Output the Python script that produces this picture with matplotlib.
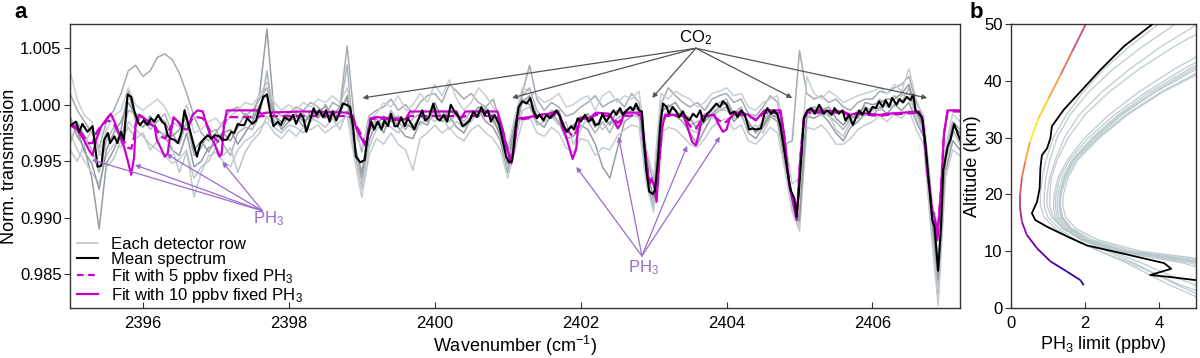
import numpy as np
import matplotlib
matplotlib.use("Agg")
import matplotlib.pyplot as plt
from matplotlib.collections import LineCollection

plt.rcParams['font.family'] = ['Liberation Sans', 'DejaVu Sans']
plt.rcParams['mathtext.fontset'] = 'custom'
plt.rcParams['mathtext.rm'] = 'Liberation Sans'
plt.rcParams['mathtext.it'] = 'Liberation Sans:italic'

# ---------------- panel a: spectra ----------------
# mean spectrum (black)
x_mean = [2395.00, 2395.08, 2395.13, 2395.17, 2395.24, 2395.31, 2395.38, 2395.43, 2395.47, 2395.52,
          2395.55, 2395.61, 2395.65, 2395.70, 2395.74, 2395.79, 2395.84, 2395.88, 2395.93, 2395.96,
          2396.01, 2396.06, 2396.11, 2396.16, 2396.21, 2396.26, 2396.30, 2396.34, 2396.38, 2396.43,
          2396.48, 2396.53, 2396.57, 2396.60, 2396.65, 2396.69, 2396.74, 2396.79, 2396.84, 2396.89,
          2396.94, 2396.99, 2397.05, 2397.09, 2397.15, 2397.21, 2397.25, 2397.30, 2397.34, 2397.39,
          2397.43, 2397.50, 2397.55, 2397.59, 2397.65, 2397.70, 2397.74, 2397.79, 2397.85, 2397.89,
          2397.94,
          2398.01, 2398.06, 2398.10, 2398.16, 2398.20, 2398.24, 2398.29, 2398.34, 2398.38, 2398.42,
          2398.47, 2398.51, 2398.56, 2398.60, 2398.65, 2398.69, 2398.74, 2398.79, 2398.84, 2398.88,
          2398.92, 2398.98, 2399.04, 2399.08, 2399.13, 2399.17, 2399.22, 2399.27, 2399.31, 2399.36,
          2399.40, 2399.45, 2399.49, 2399.54, 2399.59, 2399.63, 2399.68, 2399.72, 2399.77, 2399.83,
          2399.87, 2399.92, 2399.98, 2400.03, 2400.07, 2400.12, 2400.17, 2400.22, 2400.27, 2400.33,
          2400.38, 2400.43, 2400.48, 2400.53, 2400.58, 2400.64, 2400.68, 2400.73, 2400.77, 2400.82,
          2400.88, 2400.93, 2400.98, 2401.02,
          2401.06, 2401.08, 2401.11, 2401.15, 2401.20, 2401.26, 2401.31, 2401.35, 2401.40, 2401.44,
          2401.49, 2401.53, 2401.58, 2401.63, 2401.67, 2401.72, 2401.76, 2401.81, 2401.87, 2401.91,
          2401.96, 2402.00, 2402.06, 2402.11, 2402.16, 2402.20, 2402.25, 2402.30, 2402.35, 2402.39,
          2402.45, 2402.49, 2402.54, 2402.58, 2402.63, 2402.68, 2402.72, 2402.76, 2402.80, 2402.84,
          2402.87, 2402.90, 2402.94, 2402.99, 2403.02, 2403.06, 2403.09, 2403.13, 2403.18, 2403.21,
          2403.26, 2403.31, 2403.35, 2403.40, 2403.44, 2403.49, 2403.54, 2403.59, 2403.64, 2403.68,
          2403.73, 2403.77, 2403.82, 2403.86, 2403.91, 2403.95, 2404.00, 2404.05,
          2404.11, 2404.15, 2404.20, 2404.25, 2404.31, 2404.36, 2404.40, 2404.47, 2404.52, 2404.56,
          2404.61, 2404.65, 2404.70, 2404.74, 2404.79, 2404.84, 2404.88, 2404.93, 2404.96, 2404.99,
          2405.03, 2405.06, 2405.11, 2405.16, 2405.21, 2405.27, 2405.33, 2405.38, 2405.44, 2405.48,
          2405.54, 2405.59, 2405.63, 2405.68, 2405.73, 2405.77, 2405.82, 2405.86, 2405.91, 2405.95,
          2406.00, 2406.05, 2406.09, 2406.14, 2406.18, 2406.23, 2406.27, 2406.33, 2406.37, 2406.42,
          2406.47, 2406.52, 2406.56, 2406.59, 2406.64, 2406.68, 2406.73, 2406.78, 2406.82, 2406.85,
          2406.90, 2406.94, 2406.97, 2407.03, 2407.07, 2407.12, 2407.16, 2407.20]
y_mean = [0.9981, 0.9985, 0.9976, 0.9983, 0.9976, 0.9981, 0.9945, 0.9946, 0.9969, 0.9975,
          0.9966, 0.9972, 0.9966, 0.9976, 0.9969, 1.0009, 1.0007, 0.9995, 0.9985, 0.9982,
          0.9986, 0.9982, 0.9988, 0.9985, 0.9991, 0.9985, 0.9983, 0.9973, 0.9970, 0.9969,
          0.9966, 0.9976, 0.9995, 0.9988, 0.9976, 0.9966, 0.9954, 0.9966, 0.9970, 0.9973,
          0.9970, 0.9973, 0.9972, 0.9969, 0.9969, 0.9976, 0.9975, 0.9983, 0.9982, 0.9982,
          0.9988, 0.9983, 0.9986, 0.9995, 1.0007, 1.0009, 0.9995, 0.9981, 0.9985, 0.9982,
          0.9989,
          0.9986, 0.9991, 0.9983, 0.9992, 0.9988, 0.9976, 0.9986, 0.9997, 0.9991, 0.9995,
          0.9989, 0.9995, 0.9985, 0.9994, 0.9986, 0.9992, 1.0001, 1.0000, 0.9998, 0.9981,
          0.9954, 0.9949, 0.9951, 0.9972, 0.9985, 0.9978, 0.9985, 0.9978, 0.9986, 0.9981,
          0.9992, 0.9981, 0.9981, 0.9989, 0.9981, 0.9988, 0.9983, 0.9978, 0.9986, 0.9995,
          0.9986, 0.9989, 1.0001, 0.9988, 0.9986, 0.9991, 0.9985, 1.0000, 0.9994, 0.9989,
          0.9981, 0.9983, 0.9986, 0.9994, 0.9989, 0.9998, 0.9991, 0.9995, 0.9985, 0.9991,
          0.9983, 0.9969, 0.9954, 0.9949,
          0.9950, 0.9962, 0.9981, 0.9998, 1.0003, 1.0001, 1.0006, 0.9995, 0.9988, 0.9991,
          0.9986, 0.9991, 0.9988, 0.9992, 0.9995, 0.9989, 0.9982, 0.9976, 0.9981, 0.9978,
          0.9988, 0.9985, 0.9991, 0.9985, 0.9988, 0.9982, 0.9983, 0.9992, 0.9985, 0.9989,
          0.9995, 0.9991, 0.9997, 0.9991, 0.9995, 0.9998, 0.9995, 1.0001, 0.9995, 0.9994,
          0.9966, 0.9942, 0.9923, 0.9921, 0.9924, 0.9951, 0.9981, 1.0001, 0.9998, 0.9992,
          0.9998, 0.9994, 0.9989, 0.9994, 0.9989, 0.9986, 0.9992, 0.9989, 0.9995, 0.9985,
          0.9992, 0.9994, 0.9998, 1.0001, 0.9998, 1.0003, 1.0000, 0.9992,
          0.9994, 0.9989, 0.9995, 0.9991, 0.9978, 0.9979, 0.9978, 0.9979, 0.9992, 0.9997,
          0.9992, 0.9995, 0.9991, 0.9981, 0.9960, 0.9939, 0.9924, 0.9917, 0.9901, 0.9921,
          0.9957, 0.9988, 0.9995, 0.9997, 0.9992, 1.0000, 0.9992, 0.9995, 0.9991, 0.9997,
          0.9992, 0.9995, 0.9986, 0.9991, 0.9982, 0.9988, 0.9995, 0.9991, 0.9997, 0.9992,
          0.9998, 0.9997, 1.0003, 0.9998, 1.0004, 0.9998, 1.0006, 1.0000, 1.0005, 1.0002,
          1.0007, 1.0004, 1.0009, 0.9995, 0.9992, 0.9989, 0.9963, 0.9927, 0.9898, 0.9892,
          0.9853, 0.9892, 0.9942, 0.9963, 0.9969, 0.9983, 0.9976, 0.9969]

# fits: 10 ppbv (solid) and 5 ppbv (dashed)
x_fit = [2395.00, 2395.10, 2395.19, 2395.26, 2395.31, 2395.36, 2395.43, 2395.52, 2395.56, 2395.61,
         2395.68, 2395.74, 2395.79, 2395.84, 2395.88, 2395.90, 2395.95, 2396.02, 2396.09, 2396.16,
         2396.19, 2396.25, 2396.30, 2396.34, 2396.38, 2396.42, 2396.48, 2396.54, 2396.61, 2396.68,
         2396.75, 2396.82, 2396.88, 2396.93, 2396.99, 2397.05, 2397.08, 2397.11, 2397.15, 2397.57,
         2397.62, 2397.70, 2398.20, 2398.80, 2398.88, 2398.92, 2398.98, 2399.03, 2399.06, 2399.09,
         2399.12, 2399.20, 2399.60, 2399.66, 2400.30, 2400.34, 2400.38, 2400.42, 2400.86, 2400.92,
         2400.98, 2401.05, 2401.09, 2401.13, 2401.16, 2401.30, 2401.43, 2401.57, 2401.66, 2401.71,
         2401.75, 2401.80, 2401.85, 2401.89, 2401.94, 2401.96, 2401.99, 2402.12, 2402.21, 2402.39,
         2402.46, 2402.51, 2402.55, 2402.60, 2402.83, 2402.87, 2402.94, 2402.98, 2403.01, 2403.04,
         2403.08, 2403.12, 2403.16, 2403.40, 2403.44, 2403.49, 2403.53, 2403.58, 2403.63, 2403.66,
         2403.83, 2403.88, 2403.95, 2404.00, 2404.04, 2404.11, 2404.20, 2404.30, 2404.40, 2404.45,
         2404.52, 2404.74, 2404.79, 2404.86, 2404.92, 2404.96, 2405.01, 2405.06, 2405.11, 2405.60,
         2405.70, 2405.80, 2406.10, 2406.20, 2406.64, 2406.69, 2406.75, 2406.82, 2406.85, 2406.89,
         2406.94, 2406.98, 2407.03, 2407.20]
y_fit10 = [0.9982, 0.9978, 0.9969, 0.9960, 0.9955, 0.9969, 0.9981, 0.9989, 0.9992, 0.9985,
           0.9973, 0.9963, 0.9951, 0.9938, 0.9954, 0.9983, 0.9991, 0.9988, 0.9983, 0.9981,
           0.9969, 0.9961, 0.9954, 0.9957, 0.9975, 0.9989, 0.9985, 0.9979, 0.9978, 0.9991,
           0.9995, 0.9994, 0.9981, 0.9972, 0.9964, 0.9954, 0.9957, 0.9981, 0.9995, 0.9995,
           0.9992, 0.9993, 0.9994, 0.9993, 0.9990, 0.9980, 0.9972, 0.9966, 0.9963, 0.9975,
           0.9988, 0.9989, 0.9987, 0.9994, 0.9994, 0.9988, 0.9990, 0.9994, 0.9994, 0.9980,
           0.9963, 0.9948, 0.9962, 0.9987, 0.9988, 0.9989, 0.9991, 0.9992, 0.9994, 0.9991,
           0.9980, 0.9972, 0.9961, 0.9952, 0.9961, 0.9977, 0.9988, 0.9988, 0.9993, 0.9992,
           0.9985, 0.9979, 0.9983, 0.9993, 0.9993, 0.9966, 0.9930, 0.9933, 0.9927, 0.9914,
           0.9951, 0.9981, 0.9991, 0.9991, 0.9985, 0.9975, 0.9967, 0.9964, 0.9977, 0.9990,
           0.9991, 0.9984, 0.9976, 0.9978, 0.9987, 0.9993, 0.9993, 0.9991, 0.9986, 0.9990,
           0.9995, 0.9995, 0.9973, 0.9929, 0.9911, 0.9898, 0.9951, 0.9989, 0.9995, 0.9994,
           0.9991, 0.9993, 0.9991, 0.9992, 0.9994, 0.9986, 0.9942, 0.9904, 0.9901, 0.9880,
           0.9924, 0.9974, 0.9995, 0.9995]
y_fit5 = [0.9983, 0.9980, 0.9972, 0.9966, 0.9966, 0.9975, 0.9982, 0.9986, 0.9985, 0.9982,
          0.9974, 0.9968, 0.9962, 0.9961, 0.9972, 0.9982, 0.9988, 0.9987, 0.9985, 0.9982,
          0.9977, 0.9972, 0.9970, 0.9974, 0.9980, 0.9985, 0.9985, 0.9981, 0.9980, 0.9988,
          0.9989, 0.9988, 0.9982, 0.9975, 0.9970, 0.9966, 0.9968, 0.9982, 0.9989, 0.9989,
          0.9990, 0.9990, 0.9990, 0.9990, 0.9988, 0.9982, 0.9975, 0.9968, 0.9966, 0.9978,
          0.9987, 0.9988, 0.9986, 0.9990, 0.9990, 0.9988, 0.9989, 0.9990, 0.9990, 0.9981,
          0.9965, 0.9950, 0.9963, 0.9987, 0.9987, 0.9988, 0.9990, 0.9990, 0.9991, 0.9989,
          0.9984, 0.9979, 0.9975, 0.9972, 0.9976, 0.9983, 0.9988, 0.9988, 0.9991, 0.9990,
          0.9987, 0.9984, 0.9986, 0.9990, 0.9991, 0.9966, 0.9932, 0.9935, 0.9930, 0.9918,
          0.9952, 0.9981, 0.9990, 0.9990, 0.9987, 0.9982, 0.9979, 0.9979, 0.9984, 0.9990,
          0.9990, 0.9987, 0.9984, 0.9985, 0.9988, 0.9991, 0.9991, 0.9990, 0.9987, 0.9989,
          0.9993, 0.9993, 0.9972, 0.9930, 0.9913, 0.9901, 0.9952, 0.9988, 0.9993, 0.9993,
          0.9990, 0.9992, 0.9990, 0.9991, 0.9993, 0.9985, 0.9943, 0.9906, 0.9903, 0.9884,
          0.9926, 0.9974, 0.9994, 0.9994]

# individual detector rows, sampled every 0.1 cm-1 from 2395.0 to 2407.2
x_rows = np.linspace(2395.0, 2407.2, 123)
row_a = [0.9990, 0.9972, 0.9962, 0.9935, 0.9890, 0.9948, 0.9960, 0.9978, 1.0012, 0.9985,
         0.9980, 0.9990, 0.9978, 0.9972, 0.9960, 0.9955, 0.9975, 0.9945, 0.9950, 0.9962,
         0.9965, 0.9975, 0.9968, 0.9980, 0.9992, 0.9988, 1.0010, 1.0067, 0.9992, 0.9978,
         0.9985, 0.9990, 0.9980, 0.9995, 0.9988, 1.0000, 0.9990, 0.9998, 1.0005, 0.9960,
         0.9935, 0.9968, 0.9985, 0.9975, 0.9992, 0.9980, 0.9972, 0.9970, 0.9985, 0.9982,
         0.9998, 0.9985, 0.9990, 0.9980, 0.9975, 0.9988, 0.9995, 0.9985, 0.9980, 0.9968,
         0.9940, 0.9972, 1.0005, 1.0000, 0.9985, 0.9980, 0.9992, 0.9985, 0.9970, 0.9972,
         0.9982, 0.9978, 0.9965, 0.9945, 0.9935, 0.9960, 0.9985, 0.9990, 0.9992, 0.9938,
         0.9908, 0.9985, 0.9992, 0.9990, 0.9985, 0.9975, 0.9965, 0.9978, 0.9990, 0.9995,
         0.9998, 0.9985, 0.9992, 0.9975, 0.9970, 0.9980, 0.9990, 0.9985, 0.9948, 0.9912,
         0.9895, 0.9990, 0.9988, 0.9992, 0.9985, 0.9975, 0.9968, 0.9980, 0.9985, 0.9992,
         0.9990, 0.9998, 0.9992, 1.0000, 0.9995, 1.0002, 0.9985, 0.9972, 0.9900, 0.9830,
         0.9940, 0.9968, 0.9960]
row_b = [1.0010, 0.9995, 0.9985, 0.9975, 0.9962, 0.9985, 0.9995, 1.0010, 1.0030, 1.0035,
         1.0025, 1.0030, 1.0042, 1.0045, 1.0040, 1.0028, 1.0010, 0.9990, 0.9975, 0.9968,
         0.9975, 0.9985, 0.9995, 0.9998, 0.9990, 0.9995, 1.0005, 1.0015, 0.9995, 0.9990,
         0.9992, 0.9998, 0.9995, 1.0002, 0.9998, 0.9990, 1.0002, 0.9998, 1.0052, 0.9985,
         0.9958, 0.9990, 0.9995, 0.9998, 1.0005, 0.9995, 1.0000, 0.9992, 1.0002, 1.0008,
         1.0010, 1.0002, 1.0018, 1.0012, 1.0005, 1.0010, 1.0002, 0.9998, 1.0005, 0.9985,
         0.9958, 0.9985, 1.0010, 1.0035, 1.0005, 0.9995, 1.0002, 0.9998, 0.9990, 0.9992,
         0.9998, 1.0002, 1.0008, 0.9998, 1.0002, 1.0005, 0.9998, 1.0010, 1.0002, 0.9958,
         0.9930, 1.0000, 1.0015, 1.0008, 1.0002, 0.9998, 1.0002, 0.9995, 1.0005, 1.0008,
         1.0010, 1.0002, 1.0005, 0.9992, 0.9990, 0.9998, 1.0008, 1.0002, 0.9965, 0.9968,
         1.0048, 1.0010, 1.0005, 1.0008, 1.0002, 1.0005, 0.9998, 0.9995, 1.0002, 1.0005,
         1.0005, 1.0012, 1.0010, 1.0015, 1.0018, 1.0025, 1.0002, 0.9990, 0.9925, 0.9860,
         0.9955, 0.9985, 0.9978]
row_c = [0.9975, 0.9960, 0.9950, 0.9940, 0.9930, 0.9955, 0.9965, 0.9962, 0.9985, 0.9978,
         0.9972, 0.9965, 0.9960, 0.9955, 0.9948, 0.9952, 0.9960, 0.9918, 0.9940, 0.9955,
         0.9958, 0.9950, 0.9945, 0.9960, 0.9968, 0.9972, 0.9980, 0.9985, 0.9975, 0.9970,
         0.9978, 0.9972, 0.9980, 0.9978, 0.9982, 0.9975, 0.9980, 0.9985, 0.9990, 0.9952,
         0.9918, 0.9955, 0.9970, 0.9965, 0.9975, 0.9965, 0.9960, 0.9942, 0.9970, 0.9975,
         0.9982, 0.9975, 0.9980, 0.9972, 0.9968, 0.9978, 0.9982, 0.9975, 0.9970, 0.9960,
         0.9935, 0.9960, 0.9985, 0.9990, 0.9975, 0.9972, 0.9980, 0.9975, 0.9962, 0.9958,
         0.9970, 0.9968, 0.9955, 0.9962, 0.9960, 0.9972, 0.9978, 0.9982, 0.9980, 0.9930,
         0.9905, 0.9975, 0.9980, 0.9978, 0.9972, 0.9965, 0.9962, 0.9970, 0.9980, 0.9985,
         0.9988, 0.9978, 0.9982, 0.9968, 0.9965, 0.9972, 0.9980, 0.9975, 0.9942, 0.9905,
         0.9888, 0.9980, 0.9978, 0.9982, 0.9975, 0.9965, 0.9965, 0.9970, 0.9978, 0.9982,
         0.9985, 0.9990, 0.9985, 0.9992, 0.9988, 0.9995, 0.9978, 0.9965, 0.9892, 0.9822,
         0.9935, 0.9960, 0.9955]
row_d = [1.0030, 1.0005, 0.9990, 0.9985, 0.9955, 0.9978, 0.9990, 0.9995, 1.0015, 1.0000,
         0.9995, 1.0000, 1.0005, 0.9998, 0.9985, 0.9980, 1.0000, 0.9975, 0.9978, 0.9985,
         0.9988, 0.9980, 0.9990, 0.9995, 1.0002, 1.0000, 1.0008, 1.0020, 1.0002, 0.9995,
         1.0000, 0.9995, 1.0002, 0.9998, 1.0005, 1.0002, 1.0008, 1.0002, 1.0015, 0.9975,
         0.9962, 0.9985, 0.9992, 1.0002, 0.9998, 1.0008, 0.9995, 1.0000, 1.0010, 1.0002,
         1.0018, 1.0008, 1.0022, 1.0005, 0.9995, 1.0002, 1.0015, 1.0008, 0.9998, 0.9988,
         0.9962, 0.9990, 1.0015, 1.0012, 1.0008, 1.0002, 1.0005, 1.0010, 0.9998, 1.0000,
         1.0005, 1.0008, 0.9995, 1.0008, 1.0012, 1.0002, 1.0008, 1.0005, 1.0012, 0.9962,
         0.9935, 1.0010, 1.0005, 1.0012, 1.0008, 1.0005, 0.9998, 1.0002, 1.0010, 1.0012,
         1.0015, 1.0008, 1.0010, 0.9998, 0.9995, 1.0002, 1.0005, 1.0008, 0.9970, 0.9930,
         0.9935, 1.0025, 1.0010, 1.0005, 1.0012, 1.0008, 1.0002, 1.0005, 1.0008, 1.0010,
         1.0012, 1.0015, 1.0010, 1.0018, 1.0012, 1.0032, 1.0005, 0.9988, 0.9918, 0.9850,
         0.9962, 0.9992, 0.9985]
row_e = [0.9965, 0.9985, 0.9972, 0.9960, 0.9940, 0.9968, 0.9980, 0.9970, 0.9995, 0.9992,
         0.9990, 0.9978, 0.9985, 0.9992, 0.9975, 0.9965, 0.9985, 0.9955, 0.9962, 0.9975,
         0.9978, 0.9965, 0.9955, 0.9975, 0.9980, 0.9978, 0.9990, 1.0030, 0.9985, 0.9980,
         0.9990, 0.9985, 0.9992, 0.9985, 0.9995, 0.9998, 0.9990, 0.9995, 1.0035, 0.9958,
         0.9928, 0.9975, 0.9988, 0.9980, 0.9995, 0.9985, 0.9978, 0.9988, 0.9992, 0.9985,
         0.9992, 0.9995, 0.9985, 0.9992, 0.9985, 0.9995, 0.9990, 0.9998, 0.9985, 0.9975,
         0.9942, 0.9978, 1.0008, 1.0015, 0.9995, 0.9988, 0.9995, 0.9992, 0.9978, 0.9980,
         0.9990, 0.9985, 0.9975, 0.9985, 0.9975, 0.9988, 0.9992, 0.9998, 0.9995, 0.9945,
         0.9915, 0.9992, 1.0000, 0.9995, 0.9990, 0.9982, 0.9985, 0.9988, 0.9995, 1.0002,
         1.0005, 0.9992, 0.9998, 0.9982, 0.9978, 0.9985, 0.9995, 0.9990, 0.9952, 0.9915,
         0.9902, 0.9995, 0.9992, 0.9998, 0.9990, 0.9985, 0.9978, 0.9988, 0.9992, 0.9998,
         0.9995, 1.0005, 0.9998, 1.0008, 1.0002, 1.0015, 0.9992, 0.9978, 0.9908, 0.9840,
         0.9948, 0.9978, 0.9965]
row_f = [0.9960, 0.9950, 0.9965, 0.9978, 0.9960, 0.9945, 0.9952, 0.9968, 0.9980, 0.9970,
         0.9975, 0.9960, 0.9968, 0.9975, 0.9962, 0.9940, 0.9958, 0.9935, 0.9945, 0.9950,
         0.9962, 0.9955, 0.9962, 0.9940, 0.9958, 0.9968, 0.9975, 0.9990, 0.9980, 0.9975,
         0.9982, 0.9980, 0.9975, 0.9988, 0.9985, 0.9980, 0.9988, 0.9978, 0.9995, 0.9965,
         0.9925, 0.9962, 0.9978, 0.9985, 0.9980, 0.9975, 0.9985, 0.9978, 0.9982, 0.9990,
         0.9985, 0.9990, 0.9978, 0.9985, 0.9980, 0.9985, 0.9995, 0.9990, 0.9992, 0.9975,
         0.9945, 0.9968, 0.9995, 0.9998, 0.9982, 0.9985, 0.9990, 0.9982, 0.9985, 0.9965,
         0.9978, 0.9990, 0.9985, 0.9978, 0.9985, 0.9982, 0.9995, 0.9992, 0.9988, 0.9950,
         0.9910, 0.9988, 0.9995, 0.9990, 0.9995, 0.9978, 0.9975, 0.9992, 0.9988, 0.9995,
         0.9995, 0.9988, 0.9990, 0.9978, 0.9982, 0.9975, 0.9988, 0.9992, 0.9958, 0.9908,
         0.9892, 0.9988, 0.9995, 0.9990, 0.9992, 0.9978, 0.9972, 0.9985, 0.9995, 0.9990,
         0.9995, 0.9995, 1.0002, 0.9998, 1.0008, 1.0010, 0.9988, 0.9975, 0.9895, 0.9835,
         0.9945, 0.9975, 0.9972]
row_g = [0.9985, 0.9978, 0.9958, 0.9948, 0.9925, 0.9960, 0.9975, 0.9985, 1.0002, 0.9990,
         0.9988, 0.9982, 0.9990, 0.9985, 0.9972, 0.9978, 0.9990, 0.9960, 0.9968, 0.9958,
         0.9970, 0.9975, 0.9978, 0.9965, 0.9975, 0.9985, 1.0000, 1.0010, 0.9990, 0.9985,
         0.9988, 0.9992, 0.9985, 0.9990, 0.9992, 0.9988, 0.9995, 0.9992, 1.0008, 0.9965,
         0.9940, 0.9980, 0.9982, 0.9990, 0.9985, 0.9990, 0.9982, 0.9980, 0.9990, 0.9985,
         1.0002, 0.9988, 0.9995, 0.9990, 0.9982, 0.9990, 0.9998, 0.9995, 0.9988, 0.9972,
         0.9948, 0.9982, 1.0002, 1.0008, 0.9990, 0.9992, 0.9988, 0.9995, 0.9975, 0.9982,
         0.9988, 0.9992, 0.9980, 0.9990, 0.9982, 0.9995, 0.9990, 0.9995, 0.9998, 0.9942,
         0.9918, 0.9995, 0.9998, 1.0002, 0.9992, 0.9988, 0.9978, 0.9985, 0.9992, 0.9998,
         1.0002, 0.9990, 0.9995, 0.9985, 0.9975, 0.9982, 0.9992, 0.9988, 0.9955, 0.9918,
         0.9898, 0.9992, 0.9998, 0.9995, 0.9998, 0.9988, 0.9982, 0.9990, 0.9988, 1.0002,
         1.0000, 1.0002, 1.0005, 1.0005, 1.0010, 1.0018, 0.9995, 0.9980, 0.9910, 0.9845,
         0.9952, 0.9982, 0.9975]
rows = [row_a, row_b, row_c, row_d, row_e, row_f, row_g]
row_colors = ['#979da5', '#a4abb2', '#c3ccd1', '#c8d0d5', '#adb5bb', '#bcc6cb', '#939aa2']

# annotation targets
co2_text = (2403.58, 1.0059)
co2_from = (2403.58, 1.0050)
co2_tips = [(2399.01, 1.0006), (2401.06, 1.0006), (2402.98, 1.0006), (2404.90, 1.0006), (2406.75, 1.0006)]
ph3_left_text = (2397.72, 0.9899)
ph3_left_from = (2397.64, 0.9906)
ph3_left_tips = [(2395.30, 0.99512), (2395.89, 0.99467), (2396.32, 0.99564), (2397.09, 0.99493)]
ph3_mid_text = (2402.86, 0.98555)
ph3_mid_from = (2402.84, 0.98660)
ph3_mid_tips = [(2401.94, 0.99450), (2402.52, 0.99716), (2403.46, 0.99636), (2403.91, 0.99716)]

# ---------------- panel b: PH3 limits ----------------
alt_grid = [2, 4, 6, 8, 10, 12, 14, 16, 18, 20, 23, 26, 30, 34, 38, 42, 46, 50]
limit_rows = [
    [5.5, 4.6, 3.9, 3.2, 2.4, 1.7, 1.2, 0.90, 0.80, 0.80, 0.85, 0.95, 1.15, 1.50, 1.95, 2.50, 3.20, 4.00],
    [5.0, 4.3, 3.7, 3.1, 2.4, 1.75, 1.3, 1.00, 0.90, 0.90, 0.95, 1.05, 1.25, 1.60, 2.10, 2.75, 3.55, 4.45],
    [6.0, 5.0, 4.2, 3.5, 2.7, 1.95, 1.4, 1.10, 0.98, 0.98, 1.05, 1.20, 1.45, 1.85, 2.45, 3.20, 4.05, 5.05],
    [5.2, 4.5, 3.9, 3.3, 2.6, 1.9, 1.4, 1.15, 1.05, 1.05, 1.10, 1.25, 1.55, 2.00, 2.65, 3.45, 4.40, 5.50],
    [9.0, 7.8, 6.6, 5.3, 3.1, 2.1, 1.6, 1.35, 1.30, 1.32, 1.45, 1.70, 2.30, 3.00, 3.90, 5.00, 6.20, 7.50],
    [8.5, 7.4, 6.3, 5.0, 3.0, 2.0, 1.55, 1.30, 1.25, 1.27, 1.40, 1.65, 2.20, 2.90, 3.75, 4.80, 5.90, 7.10],
    [9.5, 8.2, 7.0, 5.6, 3.3, 2.2, 1.65, 1.40, 1.33, 1.35, 1.50, 1.75, 2.35, 3.10, 4.05, 5.20, 6.50, 7.80],
    [8.0, 7.0, 6.0, 4.8, 2.9, 1.95, 1.5, 1.25, 1.20, 1.22, 1.33, 1.58, 2.10, 2.80, 3.65, 4.65, 5.80, 7.00],
    [10.0, 8.6, 7.3, 5.9, 3.5, 2.35, 1.75, 1.48, 1.40, 1.42, 1.55, 1.80, 2.40, 3.15, 4.10, 5.30, 6.60, 8.00],
    [8.8, 7.6, 6.5, 5.2, 3.1, 2.05, 1.6, 1.38, 1.33, 1.35, 1.45, 1.68, 2.25, 2.95, 3.85, 4.90, 6.10, 7.30],
    [7.5, 6.6, 5.7, 4.6, 2.8, 1.9, 1.45, 1.20, 1.15, 1.17, 1.28, 1.52, 2.00, 2.65, 3.45, 4.40, 5.50, 6.60],
]
mean_alt = [4.9, 5.5, 5.8, 6.9, 7.9, 9.8, 11.0, 12.6, 14.3, 15.5, 16.7, 18.7, 21.1, 24.6, 26.9,
            28.1, 29.9, 32.0, 34.9, 38.1, 42.0, 46.1, 50.0]
mean_lim = [5.00, 4.24, 3.76, 4.33, 4.14, 2.88, 2.06, 1.52, 0.98, 0.66, 0.57, 0.71, 0.78, 0.80, 0.84,
            0.98, 1.07, 1.11, 1.43, 1.88, 2.43, 3.06, 3.83]
best_alt = [4.0, 4.9, 6.4, 8.2, 10.5, 12.9, 15.2, 17.6, 19.9, 22.9, 25.8, 29.3, 33.4, 36.9, 41.0, 45.2, 49.9]
best_lim = [1.97, 1.88, 1.52, 1.07, 0.71, 0.43, 0.30, 0.25, 0.25, 0.30, 0.39, 0.52, 0.75, 1.02, 1.34, 1.66, 2.02]
best_col = [0.05, 0.08, 0.12, 0.17, 0.22, 0.30, 0.38, 0.45, 0.55, 0.66, 0.80, 0.97, 0.90, 0.78, 0.64, 0.52, 0.42]

mag = '#cc00cc'
purple = '#9a6bd0'
spine_col = '#333333'

fig = plt.figure(figsize=(12, 3.58), dpi=100)
ax = fig.add_axes([0.0583, 0.1397, 0.7417, 0.7933])
bx = fig.add_axes([0.8423, 0.1397, 0.1544, 0.7933])

for r, c in zip(rows, row_colors):
    ax.plot(x_rows, r, color=c, lw=1.1, zorder=1)
ax.plot(x_fit, y_fit5, color=mag, lw=1.6, ls=(0, (4, 2)), zorder=2)
ax.plot(x_fit, y_fit10, color=mag, lw=1.6, zorder=2)
ax.plot(x_mean, y_mean, color='black', lw=1.5, zorder=3)

# legend handles
ax.plot([], [], color='#c3ccd1', lw=1.3, label='Each detector row')
ax.plot([], [], color='black', lw=1.5, label='Mean spectrum')
ax.plot([], [], color=mag, lw=1.6, ls=(0, (3, 2)), label='Fit with 5 ppbv fixed PH$_3$')
ax.plot([], [], color=mag, lw=1.6, label='Fit with 10 ppbv fixed PH$_3$')
ax.legend(loc='lower left', frameon=False, fontsize=12, handlelength=1.25, handletextpad=0.8,
          labelspacing=0.0, borderaxespad=0.2, bbox_to_anchor=(-0.003, -0.025))

arr_gray = dict(arrowstyle='-|>', color='#555555', lw=0.9, mutation_scale=7, shrinkA=0, shrinkB=0)
for tip in co2_tips:
    ax.annotate('', xy=tip, xytext=co2_from, arrowprops=arr_gray, zorder=4)
ax.text(co2_text[0], co2_text[1], 'CO$_2$', ha='center', va='center', fontsize=12, color='black')

arr_purple = dict(arrowstyle='-|>', color=purple, lw=0.9, mutation_scale=7, shrinkA=0, shrinkB=0)
for tip in ph3_left_tips:
    ax.annotate('', xy=tip, xytext=ph3_left_from, arrowprops=arr_purple, zorder=4)
ax.text(ph3_left_text[0], ph3_left_text[1], 'PH$_3$', ha='center', va='center', fontsize=12, color=purple)
for tip in ph3_mid_tips:
    ax.annotate('', xy=tip, xytext=ph3_mid_from, arrowprops=arr_purple, zorder=4)
ax.text(ph3_mid_text[0], ph3_mid_text[1], 'PH$_3$', ha='center', va='center', fontsize=12, color=purple)

ax.set_xlim(2395.0, 2407.2)
ax.set_ylim(0.982, 1.00715)
ax.set_xticks([2396, 2398, 2400, 2402, 2404, 2406])
ax.set_yticks([0.985, 0.990, 0.995, 1.000, 1.005])
ax.set_yticklabels(['0.985', '0.990', '0.995', '1.000', '1.005'])
ax.set_xlabel('Wavenumber (cm$^{-1}$)', fontsize=13, labelpad=2)
ax.set_ylabel('Norm. transmission', fontsize=13)
ax.yaxis.set_label_coords(-0.058, 0.5)

# panel b
for lr in limit_rows:
    bx.plot(lr, alt_grid, color='#b3c4c8', lw=1.0, alpha=0.8, zorder=1)
bx.plot(mean_lim, mean_alt, color='black', lw=1.3, zorder=3)
pts = np.column_stack([best_lim, best_alt])
segs = np.stack([pts[:-1], pts[1:]], axis=1)
lc = LineCollection(segs, cmap='plasma', linewidths=1.3, zorder=2)
lc.set_array(np.array(best_col[:-1]))
lc.set_clim(0, 1)
bx.add_collection(lc)
bx.set_xlim(0, 5)
bx.set_ylim(0, 50)
bx.set_xticks([0, 2, 4])
bx.set_yticks([0, 10, 20, 30, 40, 50])
bx.set_xlabel('PH$_3$ limit (ppbv)', fontsize=13, labelpad=2)
bx.set_ylabel('Altitude (km)', fontsize=13, labelpad=2)

for a in (ax, bx):
    a.tick_params(axis='x', direction='in', length=4, labelsize=12, pad=6, color=spine_col)
    a.tick_params(axis='y', direction='out', length=4, labelsize=12, pad=2, color=spine_col)
    for s in a.spines.values():
        s.set_color(spine_col)
        s.set_linewidth(1.0)

fig.text(0.012, 0.965, 'a', fontsize=16, fontweight='bold', va='center')
fig.text(0.808, 0.965, 'b', fontsize=16, fontweight='bold', va='center')

fig.savefig('out.png', dpi=100)
